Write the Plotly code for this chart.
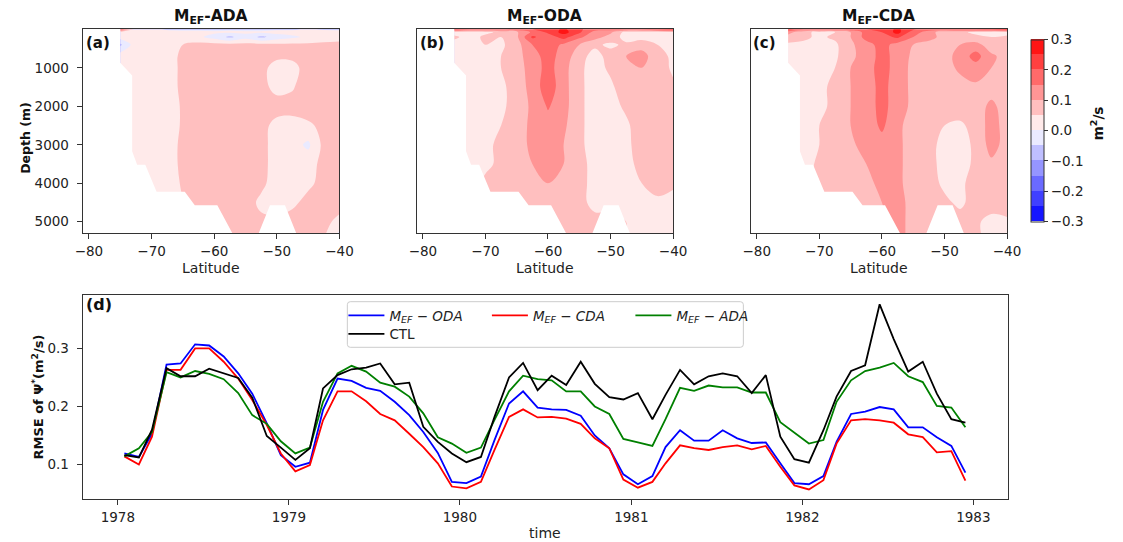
import plotly.graph_objects as go

# page body has a default 8px margin: the figure is sized/offset so that the
# visible 1123x542 window matches the reference layout
OX, OY = 8, 8
W, H = 1123 - OX, 542 - OY
FONT = "DejaVu Sans"

# ----------------------------- data: panel (d) -----------------------------
years = [1978, 1979, 1980, 1981, 1982]
time_points = [f"{y}-{m:02d}-15" for y in years for m in range(1, 13)]

rmse_oda = [0.119, 0.113, 0.153, 0.272, 0.274, 0.307, 0.305, 0.286, 0.257, 0.222, 0.171, 0.116,
            0.096, 0.103, 0.194, 0.248, 0.244, 0.232, 0.227, 0.208, 0.185, 0.156, 0.120, 0.070,
            0.068, 0.079, 0.142, 0.205, 0.226, 0.198, 0.195, 0.194, 0.184, 0.150, 0.128, 0.083,
            0.066, 0.080, 0.130, 0.159, 0.141, 0.141, 0.159, 0.145, 0.137, 0.138, 0.102, 0.068,
            0.066, 0.080, 0.139, 0.187, 0.191, 0.199, 0.195, 0.164, 0.164, 0.147, 0.132, 0.086]
rmse_cda = [0.114, 0.100, 0.148, 0.263, 0.263, 0.300, 0.300, 0.277, 0.248, 0.211, 0.168, 0.119,
            0.088, 0.099, 0.176, 0.226, 0.226, 0.209, 0.187, 0.176, 0.153, 0.130, 0.102, 0.062,
            0.059, 0.070, 0.125, 0.182, 0.195, 0.181, 0.182, 0.179, 0.170, 0.145, 0.128, 0.074,
            0.060, 0.070, 0.102, 0.133, 0.128, 0.125, 0.130, 0.133, 0.126, 0.132, 0.096, 0.064,
            0.057, 0.073, 0.136, 0.176, 0.178, 0.176, 0.172, 0.152, 0.147, 0.121, 0.123, 0.072]
rmse_ada = [0.114, 0.128, 0.156, 0.259, 0.250, 0.261, 0.256, 0.247, 0.223, 0.185, 0.170, 0.140,
            0.119, 0.129, 0.208, 0.257, 0.270, 0.260, 0.241, 0.234, 0.217, 0.188, 0.147, 0.136,
            0.120, 0.129, 0.177, 0.226, 0.253, 0.247, 0.245, 0.226, 0.226, 0.200, 0.187, 0.144,
            0.138, 0.132, 0.178, 0.232, 0.227, 0.236, 0.233, 0.233, 0.224, 0.224, 0.173, 0.154,
            0.136, 0.142, 0.208, 0.245, 0.261, 0.267, 0.275, 0.252, 0.242, 0.201, 0.198, 0.164]
rmse_ctl = [0.116, 0.112, 0.160, 0.266, 0.252, 0.252, 0.265, 0.257, 0.249, 0.215, 0.149, 0.129,
            0.108, 0.128, 0.231, 0.254, 0.264, 0.267, 0.274, 0.238, 0.241, 0.165, 0.139, 0.119,
            0.104, 0.113, 0.182, 0.250, 0.275, 0.228, 0.253, 0.237, 0.277, 0.239, 0.216, 0.212,
            0.223, 0.178, 0.220, 0.263, 0.238, 0.252, 0.257, 0.252, 0.223, 0.254, 0.148, 0.109,
            0.103, 0.159, 0.217, 0.261, 0.271, 0.376, 0.316, 0.260, 0.277, 0.222, 0.178, 0.172]

year_tick_vals = ["1978-01-01", "1979-01-01", "1980-01-01", "1981-01-01", "1982-01-01", "1983-01-01"]
year_tick_text = ["1978", "1979", "1980", "1981", "1982", "1983"]
rmse_ticks = [0.1, 0.2, 0.3]

# ----------------------------- data: panels (a)-(c) ------------------------
lat_grid = [-75, -72.5, -70, -67.5, -65, -62.5, -60, -57.5, -55, -52.5, -50, -47.5, -45, -42.5, -40]
depth_grid = [0, 75, 200, 400, 700, 1000, 1500, 2000, 2500, 3000, 3500, 4000, 4500, 5000, 5300]

diff_ada = [
    [0.20, 0.03, 0.02, -0.01, -0.02, -0.01, -0.02, -0.01, -0.02, -0.02, -0.01, -0.01, 0.01, -0.01, -0.02],
    [0.04, 0.03, 0.03, 0.02, 0.02, 0.01, 0.01, 0.01, 0.01, 0.01, 0.02, 0.02, 0.03, 0.03, 0.03],
    [0.02, 0.03, 0.03, 0.02, 0.02, 0.01, -0.02, -0.06, -0.02, -0.06, -0.03, -0.01, 0.01, 0.02, 0.03],
    [-0.06, 0.03, 0.03, 0.03, 0.05, 0.065, 0.065, 0.065, 0.065, 0.065, 0.06, 0.06, 0.06, 0.065, 0.065],
    [0.03, 0.03, 0.03, 0.03, 0.06, 0.08, 0.08, 0.08, 0.08, 0.075, 0.06, 0.06, 0.08, 0.08, 0.08],
    [0.03, 0.03, 0.03, 0.03, 0.06, 0.08, 0.08, 0.08, 0.08, 0.065, 0.03, 0.035, 0.07, 0.08, 0.08],
    [0.03, 0.03, 0.03, 0.03, 0.06, 0.08, 0.08, 0.08, 0.08, 0.065, 0.035, 0.045, 0.08, 0.08, 0.08],
    [0.03, 0.03, 0.03, 0.03, 0.055, 0.08, 0.08, 0.08, 0.08, 0.08, 0.07, 0.07, 0.08, 0.08, 0.08],
    [0.03, 0.03, 0.03, 0.03, 0.055, 0.08, 0.08, 0.08, 0.08, 0.065, 0.035, 0.03, 0.04, 0.065, 0.08],
    [0.03, 0.03, 0.03, 0.03, 0.06, 0.08, 0.08, 0.08, 0.08, 0.065, 0.03, 0.02, -0.01, 0.065, 0.08],
    [0.03, 0.03, 0.03, 0.03, 0.06, 0.08, 0.08, 0.08, 0.08, 0.065, 0.03, 0.03, 0.03, 0.065, 0.08],
    [0.03, 0.03, 0.03, 0.03, 0.055, 0.08, 0.08, 0.08, 0.08, 0.06, 0.03, 0.03, 0.04, 0.065, 0.08],
    [0.03, 0.03, 0.03, 0.03, 0.05, 0.08, 0.08, 0.08, 0.07, 0.04, 0.03, 0.04, 0.065, 0.08, 0.08],
    [0.03, 0.03, 0.03, 0.03, 0.05, 0.08, 0.08, 0.08, 0.07, 0.06, 0.06, 0.07, 0.08, 0.07, 0.03],
    [0.03, 0.03, 0.03, 0.03, 0.05, 0.08, 0.08, 0.08, 0.07, 0.06, 0.06, 0.07, 0.08, 0.06, -0.01],
]

diff_oda = [
    [0.22, 0.17, 0.17, 0.17, 0.18, 0.20, 0.22, 0.26, 0.21, 0.17, 0.17, 0.17, 0.17, 0.20, 0.24],
    [0.03, 0.03, 0.04, 0.06, 0.09, 0.16, 0.21, 0.27, 0.21, 0.13, 0.11, 0.03, 0.03, 0.03, 0.03],
    [0.06, 0.03, 0.06, 0.05, 0.09, 0.21, 0.17, 0.22, 0.16, 0.12, 0.08, 0.03, 0.03, 0.03, 0.03],
    [0.03, 0.03, 0.05, 0.04, 0.08, 0.15, 0.18, 0.14, 0.10, 0.06, 0.04, 0.06, 0.08, 0.05, 0.03],
    [0.03, 0.03, 0.04, 0.05, 0.08, 0.13, 0.17, 0.13, 0.07, 0.03, 0.07, 0.10, 0.12, 0.07, 0.04],
    [0.03, 0.03, 0.04, 0.05, 0.08, 0.12, 0.17, 0.12, 0.06, 0.03, 0.06, 0.09, 0.10, 0.08, 0.04],
    [0.03, 0.03, 0.04, 0.04, 0.07, 0.12, 0.18, 0.12, 0.06, 0.03, 0.04, 0.08, 0.08, 0.08, 0.06],
    [0.03, 0.03, 0.04, 0.04, 0.07, 0.11, 0.155, 0.12, 0.06, 0.03, 0.03, 0.06, 0.08, 0.08, 0.07],
    [0.03, 0.03, 0.03, 0.05, 0.08, 0.11, 0.13, 0.11, 0.06, 0.03, 0.03, 0.04, 0.08, 0.08, 0.08],
    [0.03, 0.03, 0.04, 0.06, 0.08, 0.11, 0.13, 0.10, 0.06, 0.03, 0.03, 0.04, 0.07, 0.08, 0.08],
    [0.03, 0.03, 0.04, 0.06, 0.09, 0.10, 0.12, 0.10, 0.07, 0.03, 0.03, 0.04, 0.06, 0.08, 0.08],
    [0.03, 0.03, 0.06, 0.07, 0.08, 0.09, 0.10, 0.09, 0.07, 0.03, 0.03, 0.03, 0.05, 0.07, 0.06],
    [0.03, 0.03, 0.06, 0.07, 0.08, 0.08, 0.08, 0.08, 0.06, 0.04, 0.04, 0.03, 0.04, 0.04, 0.03],
    [0.03, 0.03, 0.06, 0.07, 0.08, 0.08, 0.08, 0.08, 0.06, 0.06, 0.06, 0.05, 0.04, 0.03, 0.03],
    [0.03, 0.03, 0.06, 0.07, 0.08, 0.08, 0.08, 0.08, 0.06, 0.06, 0.06, 0.05, 0.04, 0.03, 0.03],
]

diff_cda = [
    [0.22, 0.17, 0.17, 0.17, 0.18, 0.20, 0.22, 0.26, 0.21, 0.17, 0.18, 0.20, 0.20, 0.22, 0.25],
    [0.12, 0.06, 0.04, 0.05, 0.10, 0.17, 0.20, 0.27, 0.17, 0.13, 0.06, 0.06, 0.04, 0.03, 0.03],
    [0.08, 0.06, 0.04, 0.06, 0.10, 0.17, 0.18, 0.21, 0.15, 0.12, 0.08, 0.07, 0.06, 0.05, 0.06],
    [0.04, 0.04, 0.04, 0.04, 0.09, 0.13, 0.17, 0.13, 0.10, 0.08, 0.08, 0.10, 0.12, 0.07, 0.07],
    [0.03, 0.03, 0.04, 0.04, 0.09, 0.12, 0.17, 0.13, 0.09, 0.08, 0.08, 0.12, 0.17, 0.11, 0.08],
    [0.03, 0.03, 0.04, 0.05, 0.10, 0.12, 0.18, 0.12, 0.09, 0.08, 0.08, 0.11, 0.13, 0.10, 0.08],
    [0.03, 0.03, 0.04, 0.06, 0.10, 0.12, 0.17, 0.12, 0.09, 0.08, 0.08, 0.08, 0.09, 0.08, 0.08],
    [0.03, 0.03, 0.04, 0.06, 0.10, 0.12, 0.17, 0.12, 0.09, 0.08, 0.07, 0.08, 0.08, 0.11, 0.08],
    [0.03, 0.03, 0.05, 0.07, 0.10, 0.12, 0.16, 0.11, 0.08, 0.08, 0.05, 0.04, 0.07, 0.12, 0.08],
    [0.03, 0.03, 0.05, 0.07, 0.09, 0.12, 0.13, 0.11, 0.08, 0.07, 0.03, 0.03, 0.06, 0.12, 0.08],
    [0.03, 0.03, 0.06, 0.07, 0.08, 0.10, 0.12, 0.11, 0.08, 0.07, 0.03, 0.03, 0.06, 0.09, 0.08],
    [0.03, 0.03, 0.07, 0.07, 0.08, 0.09, 0.11, 0.11, 0.08, 0.07, 0.04, 0.04, 0.07, 0.08, 0.08],
    [0.03, 0.03, 0.07, 0.07, 0.08, 0.08, 0.10, 0.12, 0.08, 0.07, 0.06, 0.04, 0.07, 0.08, 0.08],
    [0.03, 0.03, 0.07, 0.07, 0.08, 0.08, 0.09, 0.12, 0.08, 0.07, 0.08, 0.07, 0.06, 0.03, 0.04],
    [0.03, 0.03, 0.07, 0.07, 0.08, 0.08, 0.09, 0.12, 0.08, 0.07, 0.08, 0.07, 0.06, 0.03, 0.04],
]

# land / below-seafloor region (left of the shelf and the deep-floor outline), drawn white
seafloor_lat = [-82, -75.0, -75.0, -73.1, -73.1, -72.3, -71.0, -69.2, -64.7, -63.1, -59.5, -57.1, -82, -82,
                None, -52.9, -51.1, -48.7, -46.9, -52.9]
seafloor_depth = [-50, -50, 870, 1200, 3170, 3520, 3520, 4220, 4220, 4570, 4570, 5300, 5300, -50,
                  None, 5300, 4570, 4570, 5300, 5300]

lat_ticks = [-80, -70, -60, -50, -40]
depth_ticks = [1000, 2000, 3000, 4000, 5000]
cbar_ticks = [-0.3, -0.2, -0.1, 0.0, 0.1, 0.2, 0.3]
level_start, level_end, level_step = -0.3, 0.3, 0.05

panel_titles = ["<b>M<sub>EF</sub>-ADA</b>", "<b>M<sub>EF</sub>-ODA</b>", "<b>M<sub>EF</sub>-CDA</b>"]
panel_tags = ["<b>(a)</b>", "<b>(b)</b>", "<b>(c)</b>", "<b>(d)</b>"]

# ----------------------------- styling helpers -----------------------------
def bwr(t):
    if t < 0.5:
        return (2 * t, 2 * t, 1.0)
    return (1.0, 2 * (1 - t), 2 * (1 - t))

nb = 12
stepped = []
for k in range(nb):
    mid = level_start + (k + 0.5) * level_step
    r, g, b = bwr((mid - level_start) / (level_end - level_start))
    c = f"rgb({round(r*255)},{round(g*255)},{round(b*255)})"
    stepped.append([k / nb, c])
    stepped.append([(k + 1) / nb, c])

def px(xp):
    return (xp - OX) / W

def py(yp):
    return 1 - (yp - OY) / H

AX = "#333333"
TICKC = "#222222"
top_dom_y = [py(233.3), py(29.3)]
x_doms = [[px(76), px(338)], [px(416.7), px(678.3)], [px(757.3), px(1019)]]

fig = go.Figure()

fields = [diff_ada, diff_oda, diff_cda]
for i, z in enumerate(fields):
    xa = "x" if i == 0 else f"x{i+1}"
    ya = "y" if i == 0 else f"y{i+1}"
    fig.add_trace(go.Contour(
        x=lat_grid, y=depth_grid, z=z,
        xaxis=xa, yaxis=ya,
        colorscale=stepped, zmin=level_start, zmax=level_end + 0.0001,
        contours=dict(start=level_start, end=level_end, size=level_step,
                      coloring="fill", showlines=False),
        line=dict(width=0),
        showscale=(i == 2),
        colorbar=dict(
            x=px(1043.3), xanchor="left", xpad=0, ypad=0,
            y=py(130.5), yanchor="middle", len=(221.7 - 39.3) / H, lenmode="fraction",
            thickness=13, outlinewidth=1, outlinecolor=AX,
            tickvals=cbar_ticks, tickformat=".1f", ticks="outside", ticklen=4,
            tickcolor=AX, tickfont=dict(family=FONT, size=13.5, color=TICKC),
        ),
        hoverinfo="skip",
    ))
    fig.add_trace(go.Scatter(
        x=seafloor_lat, y=seafloor_depth, xaxis=xa, yaxis=ya,
        mode="lines", fill="toself", fillcolor="white",
        line=dict(width=0, color="white"), hoverinfo="skip", showlegend=False,
    ))

series = [
    ("<i>M<sub>EF</sub> − ODA</i>", rmse_oda, "#0000ff", "legend"),
    ("<i>M<sub>EF</sub> − CDA</i>", rmse_cda, "#ff0000", "legend"),
    ("<i>M<sub>EF</sub> − ADA</i>", rmse_ada, "#008000", "legend"),
    ("CTL", rmse_ctl, "#000000", "legend2"),
]
for name, vals, col, lg in series:
    fig.add_trace(go.Scatter(
        x=time_points, y=vals, mode="lines", name=name,
        line=dict(color=col, width=1.8), xaxis="x4", yaxis="y4", legend=lg,
    ))

axis_common = dict(showline=True, mirror=True, linecolor=AX, linewidth=1,
                   showgrid=False, zeroline=False, ticks="outside", ticklen=5,
                   tickcolor=AX, tickwidth=1,
                   tickfont=dict(family=FONT, size=13.5, color=TICKC))

layout = dict(
    width=W, height=H, margin=dict(l=0, r=0, t=0, b=0),
    paper_bgcolor="white", plot_bgcolor="white",
    font=dict(family=FONT, color=TICKC),
)
for i in range(3):
    sx = "" if i == 0 else str(i + 1)
    layout[f"xaxis{sx}"] = dict(axis_common, domain=x_doms[i], range=[-81, -40],
                                tickvals=lat_ticks, anchor=f"y{sx}")
    yax = dict(axis_common, domain=top_dom_y, range=[5300, 0], anchor=f"x{sx}")
    if i == 0:
        yax.update(tickvals=depth_ticks, ticklabelstandoff=5)
    else:
        yax.update(showticklabels=False, ticks="")
    layout[f"yaxis{sx}"] = yax

layout["xaxis4"] = dict(axis_common, domain=[px(76), px(1020)], type="date",
                        range=["1977-10-18", "1983-03-16"],
                        tickvals=year_tick_vals, ticktext=year_tick_text, anchor="y4")
layout["yaxis4"] = dict(axis_common, domain=[py(499.3), py(295)], range=[0.040, 0.392],
                        tickvals=rmse_ticks, tickformat=".1f", anchor="x4",
                        ticklabelstandoff=5)

layout["legend"] = dict(x=px(342), y=py(300), xanchor="left", yanchor="top",
                        orientation="h", bgcolor="rgba(0,0,0,0)", borderwidth=0,
                        font=dict(family=FONT, size=13.5, color=TICKC),
                        entrywidth=92.5, entrywidthmode="pixels", itemwidth=36,
                        tracegroupgap=0)
layout["legend2"] = dict(x=px(342), y=py(318.5), xanchor="left", yanchor="top",
                         orientation="h", bgcolor="rgba(0,0,0,0)", borderwidth=0,
                         font=dict(family=FONT, size=13.5, color=TICKC),
                         itemwidth=36)

# legend frame (rounded), in paper coordinates
x0, x1, y0, y1, rr = 346, 750, 301.7, 347.3, 3
path = (f"M {px(x0+rr)},{py(y0)} L {px(x1-rr)},{py(y0)} Q {px(x1)},{py(y0)} {px(x1)},{py(y0+rr)} "
        f"L {px(x1)},{py(y1-rr)} Q {px(x1)},{py(y1)} {px(x1-rr)},{py(y1)} "
        f"L {px(x0+rr)},{py(y1)} Q {px(x0)},{py(y1)} {px(x0)},{py(y1-rr)} "
        f"L {px(x0)},{py(y0+rr)} Q {px(x0)},{py(y0)} {px(x0+rr)},{py(y0)} Z")
layout["shapes"] = [dict(type="path", xref="paper", yref="paper", path=path,
                         fillcolor="rgba(255,255,255,0.8)", line=dict(color="#cccccc", width=1),
                         layer="above")]

ann = []
centers = [(76 + 338) / 2, (416.7 + 678.3) / 2, (757.3 + 1019) / 2]
lefts = [76, 416.7, 757.3]
for i in range(3):
    ann.append(dict(text=panel_titles[i], x=px(centers[i]), y=py(17), xref="paper", yref="paper",
                    showarrow=False, xanchor="center", yanchor="middle",
                    font=dict(family=FONT, size=15.5, color="#111")))
    ann.append(dict(text=panel_tags[i], x=px(lefts[i] + 1), y=py(43), xref="paper", yref="paper",
                    showarrow=False, xanchor="left", yanchor="middle",
                    font=dict(family=FONT, size=15, color="#111")))
    ann.append(dict(text="Latitude", x=px(centers[i]), y=py(268), xref="paper", yref="paper",
                    showarrow=False, xanchor="center", yanchor="middle",
                    font=dict(family=FONT, size=14, color=TICKC)))
ann.append(dict(text=panel_tags[3], x=px(77), y=py(304), xref="paper", yref="paper",
                showarrow=False, xanchor="left", yanchor="middle",
                font=dict(family=FONT, size=16, color="#111")))
ann.append(dict(text="<b>Depth (m)</b>", x=px(17), y=py(138), xref="paper", yref="paper",
                showarrow=False, textangle=-90, xanchor="center", yanchor="middle",
                font=dict(family=FONT, size=12.5, color="#111")))
ann.append(dict(text="<b>RMSE of Ψ<sup>*</sup>(m<sup>2</sup>/s)</b>", x=px(30), y=py(397),
                xref="paper", yref="paper", showarrow=False, textangle=-90,
                xanchor="center", yanchor="middle",
                font=dict(family=FONT, size=13, color="#111")))
ann.append(dict(text="time", x=px(548), y=py(533), xref="paper", yref="paper",
                showarrow=False, xanchor="center", yanchor="middle",
                font=dict(family=FONT, size=14, color=TICKC)))
ann.append(dict(text="<b>m<sup>2</sup>/s</b>", x=px(1111), y=py(123), xref="paper", yref="paper",
                showarrow=False, textangle=-90, xanchor="center", yanchor="middle",
                font=dict(family=FONT, size=13.5, color="#111")))
layout["annotations"] = ann

fig.update_layout(**layout)
fig.write_html("out.html")
